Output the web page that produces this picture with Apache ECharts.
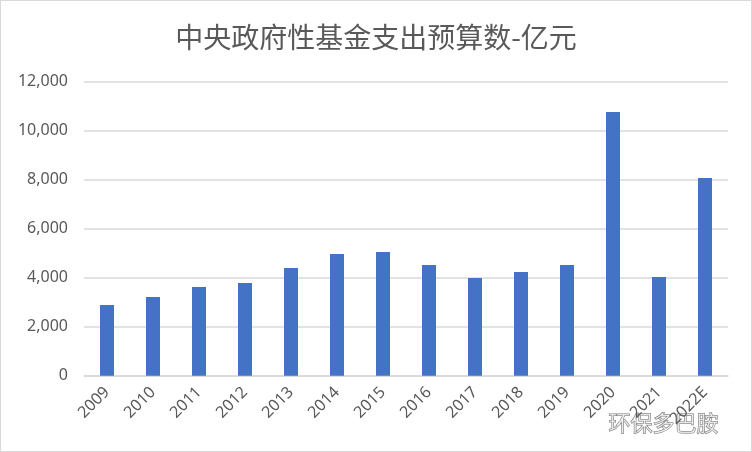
<!DOCTYPE html>
<html>
<head>
<meta charset="utf-8">
<script src="https://cdn.jsdelivr.net/npm/echarts@6/dist/echarts.min.js"></script>
<style>
html,body{margin:0;padding:0;background:#fff;}
#c{width:750px;height:450px;border:1px solid #d9d9d9;}
</style>
</head>
<body>
<div id="c"></div>
<script>
var titleText = '中央政府性基金支出预算数-亿元';
var categories = ['2009','2010','2011','2012','2013','2014','2015','2016','2017','2018','2019','2020','2021','2022E'];
var values = [2890, 3210, 3620, 3780, 4400, 4970, 5050, 4520, 3990, 4230, 4520, 10760, 4030, 8070];
var watermark = '环保多巴胺';

var chart = echarts.init(document.getElementById('c'), null, {renderer:'canvas'});
chart.setOption({
  animation:false,
  backgroundColor:'#fff',
  title:{
    text:titleText, left:'center', top:17,
    textStyle:{fontFamily:'Noto Sans CJK SC', fontSize:28, fontWeight:'normal', color:'#595959'}
  },
  grid:{left:83, right:23, top:80.7, bottom:75.3, containLabel:false},
  xAxis:{
    type:'category', data:categories,
    axisLine:{lineStyle:{color:'#d9d9d9', width:1.5}},
    axisTick:{show:false},
    axisLabel:{rotate:45, margin:14, fontSize:16, color:'#595959', fontFamily:'Noto Sans', interval:0}
  },
  yAxis:{
    type:'value', min:0, max:12000, interval:2000,
    axisLine:{show:false}, axisTick:{show:false},
    splitLine:{lineStyle:{color:'#d9d9d9', width:1.5}},
    axisLabel:{margin:16, fontSize:16, color:'#595959', fontFamily:'Noto Sans',
      formatter:function(v){return v.toLocaleString('en-US');}}
  },
  series:[{
    type:'bar', data:values, barWidth:14,
    itemStyle:{color:'#4472c4'}
  }],
  graphic:[{
    type:'text', right:32, top:410,
    style:{text:watermark, fontSize:22, fontFamily:'Noto Sans CJK SC', fill:'rgba(255,255,255,0.6)', stroke:'#7a7a7a', lineWidth:1}
  }]
});
</script>
</body>
</html>
